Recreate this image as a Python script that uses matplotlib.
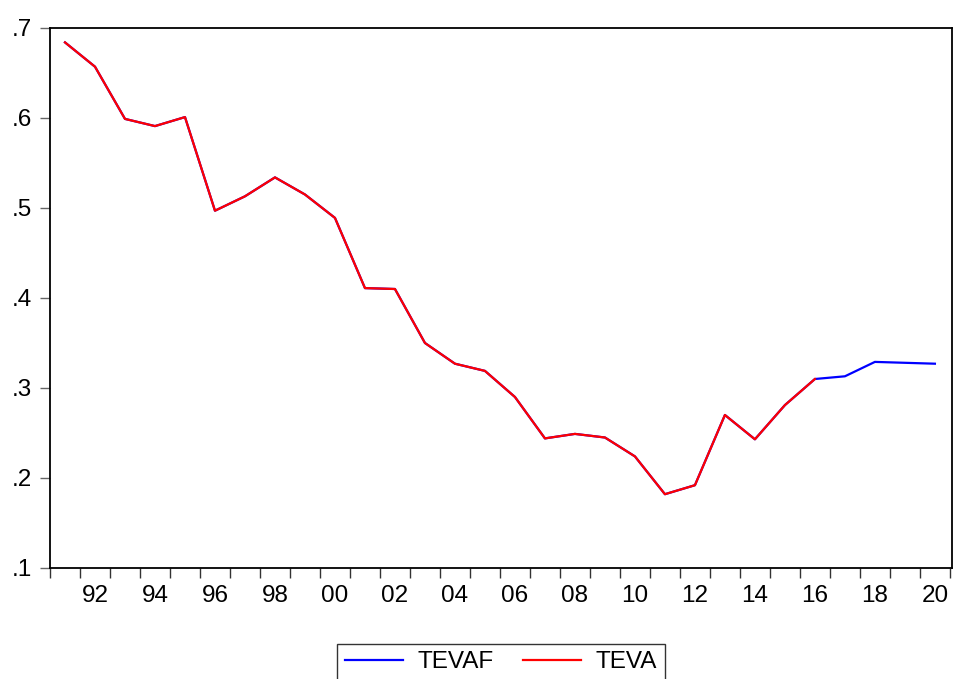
import matplotlib
matplotlib.use('Agg')
import matplotlib.pyplot as plt
from matplotlib.ticker import FixedLocator, FuncFormatter

plt.rcParams['font.family'] = ['Liberation Sans', 'DejaVu Sans']

# actual series, 1991-2016
years_actual = list(range(1991, 2017))
teva = [0.684, 0.657, 0.599, 0.591, 0.601, 0.497, 0.513, 0.534, 0.515, 0.489,
        0.411, 0.410, 0.350, 0.327, 0.319, 0.290, 0.244, 0.249, 0.245, 0.224,
        0.182, 0.192, 0.270, 0.243, 0.281, 0.310]

# forecast continues past the sample, 2017-2020
years_forecast = [2017, 2018, 2019, 2020]
forecast = [0.313, 0.329, 0.328, 0.327]

years_all = years_actual + years_forecast
tevaf = teva + forecast

yticks = [0.1, 0.2, 0.3, 0.4, 0.5, 0.6, 0.7]
xlabel_years = list(range(1992, 2021, 2))

fig = plt.figure(figsize=(9.56, 6.79), dpi=100)
ax = fig.add_axes([50 / 956, 1 - 568 / 679, 902 / 956, 540 / 679])

ax.plot(years_all, tevaf, color='blue', linewidth=1.6, label='TEVAF')
ax.plot(years_actual, teva, color='red', linewidth=1.6, label='TEVA')

ax.set_xlim(1990.5, 2020.57)
ax.set_ylim(0.1, 0.7)

# tick marks on year boundaries, labels centred on the year
ax.xaxis.set_major_locator(FixedLocator([y + 0.5 for y in range(1990, 2021)]))
ax.xaxis.set_major_formatter(FuncFormatter(lambda v, p: ''))
ax.xaxis.set_minor_locator(FixedLocator(xlabel_years))
ax.xaxis.set_minor_formatter(FuncFormatter(lambda v, p: '%02d' % (int(round(v)) % 100)))
ax.tick_params(axis='x', which='major', direction='out', length=7, width=1, color='#333333')
ax.tick_params(axis='x', which='minor', length=0, pad=12, labelsize=17.5)

ax.set_yticks(yticks)
ax.yaxis.set_major_formatter(FuncFormatter(lambda v, p: ('%.1f' % v).lstrip('0')))
ax.tick_params(axis='y', direction='out', length=7, width=1, color='#666666',
               pad=6, labelsize=17.5)

for s in ax.spines.values():
    s.set_linewidth(1.3)
    s.set_color('black')

leg = fig.legend(loc='upper center', bbox_to_anchor=(501 / 956, 1 - 644 / 679),
                 borderaxespad=0, ncol=2, fontsize=17.5, frameon=True, fancybox=False,
                 edgecolor='black', handlelength=2.4, handletextpad=0.6,
                 columnspacing=1.2, borderpad=0.3)
leg.get_frame().set_linewidth(1.0)

fig.savefig('out.png', dpi=100)
